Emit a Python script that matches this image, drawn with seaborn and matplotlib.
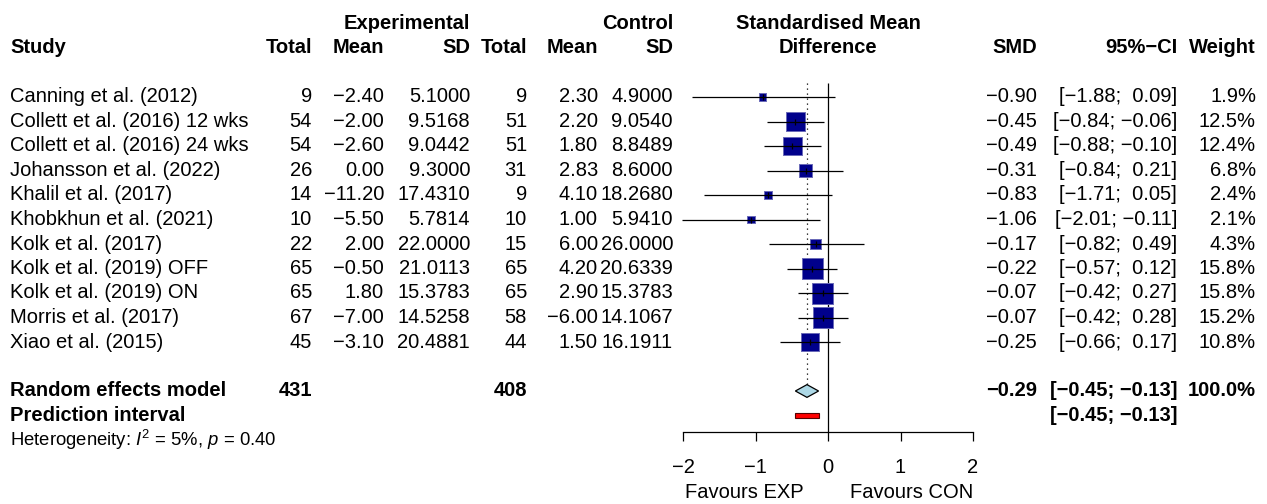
import numpy as np
import pandas as pd
import matplotlib
matplotlib.use("Agg")
import matplotlib.pyplot as plt
import seaborn as sns
from matplotlib.transforms import blended_transform_factory
from matplotlib.patches import Polygon, Rectangle

# ---------------- data ----------------
studies = ["Canning et al. (2012)", "Collett et al. (2016) 12 wks", "Collett et al. (2016) 24 wks",
           "Johansson et al. (2022)", "Khalil et al. (2017)", "Khobkhun et al. (2021)",
           "Kolk et al. (2017)", "Kolk et al. (2019) OFF", "Kolk et al. (2019) ON",
           "Morris et al. (2017)", "Xiao et al. (2015)"]
exp_total = [9, 54, 54, 26, 14, 10, 22, 65, 65, 67, 45]
exp_mean = [-2.40, -2.00, -2.60, 0.00, -11.20, -5.50, 2.00, -0.50, 1.80, -7.00, -3.10]
exp_sd = [5.1000, 9.5168, 9.0442, 9.3000, 17.4310, 5.7814, 22.0000, 21.0113, 15.3783, 14.5258, 20.4881]
ctl_total = [9, 51, 51, 31, 9, 10, 15, 65, 65, 58, 44]
ctl_mean = [2.30, 2.20, 1.80, 2.83, 4.10, 1.00, 6.00, 4.20, 2.90, -6.00, 1.50]
ctl_sd = [4.9000, 9.0540, 8.8489, 8.6000, 18.2680, 5.9410, 26.0000, 20.6339, 15.3783, 14.1067, 16.1911]
smd = [-0.90, -0.45, -0.49, -0.31, -0.83, -1.06, -0.17, -0.22, -0.07, -0.07, -0.25]
ci_lower = [-1.88, -0.84, -0.88, -0.84, -1.71, -2.01, -0.82, -0.57, -0.42, -0.42, -0.66]
ci_upper = [0.09, -0.06, -0.10, 0.21, 0.05, -0.11, 0.49, 0.12, 0.27, 0.28, 0.17]
weight = [1.9, 12.5, 12.4, 6.8, 2.4, 2.1, 4.3, 15.8, 15.8, 15.2, 10.8]

re_total_exp = 431
re_total_ctl = 408
re_smd = -0.29
re_lower = -0.45
re_upper = -0.13
re_weight = 100.0
pi_lower = -0.45
pi_upper = -0.13
het_i2 = 5
het_p = 0.40

x_ticks = [-2, -1, 0, 1, 2]
fav_left = "Favours EXP"
fav_right = "Favours CON"

# ---------------- style ----------------
sns.set_style("white")
plt.rcParams['font.family'] = ['Liberation Sans', 'DejaVu Sans']
plt.rcParams['mathtext.fontset'] = 'custom'
plt.rcParams['mathtext.rm'] = 'Liberation Sans'
plt.rcParams['mathtext.it'] = 'Liberation Sans:italic'
plt.rcParams['axes.unicode_minus'] = True
plt.rcParams['text.color'] = 'black'
plt.rcParams['xtick.color'] = 'black'
plt.rcParams['xtick.labelcolor'] = 'black'
plt.rcParams['axes.edgecolor'] = 'black'

FS = 14.5
FS_SMALL = 13.3
W, H = 1267, 504
ROW0_PX = 97.0
ROW_PX = 24.5
AXIS_PX = 432.0


def fmt(v, d):
    return f"{v:.{d}f}".replace("-", "\u2212")


def fmt_ci(lo, up, wl, wu):
    a = fmt(lo, 2)
    b = fmt(up, 2)
    return "[" + " " * (wl - len(a)) + a + "; " + " " * (wu - len(b)) + b + "]"


fig = plt.figure(figsize=(W / 100, H / 100), dpi=100)

# text layer
ax_t = fig.add_axes([0, 0, 1, 1])
ax_t.set_xlim(0, W)
ax_t.set_ylim((H - ROW0_PX) / ROW_PX, -ROW0_PX / ROW_PX)
ax_t.axis("off")

# forest layer
px_per_unit = 72.5
zero_px = 828.0
xmin, xmax = -2.1, 2.1
left_px = zero_px + xmin * px_per_unit
ax = fig.add_axes([left_px / W, (H - AXIS_PX) / H, (xmax - xmin) * px_per_unit / W, AXIS_PX / H])
ax.set_facecolor("none")
ax.set_xlim(xmin, xmax)
ax.set_ylim((AXIS_PX - ROW0_PX) / ROW_PX, -ROW0_PX / ROW_PX)

n = len(studies)
rows = np.arange(n)
row_re = n + 1
row_pi = n + 2
row_het = n + 3
hdr1, hdr2 = -3, -2

df = pd.DataFrame({"study": studies, "smd": smd, "lo": ci_lower, "up": ci_upper,
                   "w": weight, "row": rows})

# squares (area proportional to weight)
side_max_pt = 21 * 0.72
wmax = max(weight)
wmin = min(weight)
sns.scatterplot(data=df, x="smd", y="row", size="w",
                sizes=(side_max_pt ** 2 * wmin / wmax, side_max_pt ** 2),
                size_norm=(wmin, wmax), marker="s", color="#00008B",
                edgecolor="#6a6ab8", linewidth=0.7, legend=False, ax=ax, zorder=3)
# CI lines
ax.hlines(df["row"], df["lo"], df["up"], color="black", lw=0.9, zorder=4)
# point ticks
ax.scatter(df["smd"], df["row"], marker="|", s=20, color="black", linewidths=0.9, zorder=5)

# reference lines
top_line = -0.58
ax.vlines(0, top_line, (AXIS_PX - ROW0_PX) / ROW_PX, color="black", lw=0.9, zorder=2)
ax.vlines(re_smd, top_line, row_re - 0.26, color="black", lw=0.9,
          linestyles=(0, (1, 3)), zorder=2)

# diamond
ax.add_patch(Polygon([(re_lower, row_re), (re_smd, row_re - 0.26), (re_upper, row_re),
                      (re_smd, row_re + 0.26)], closed=True, fc="lightblue", ec="black",
                     lw=0.9, zorder=4))
# prediction interval
ax.add_patch(Rectangle((pi_lower, row_pi - 0.11), pi_upper - pi_lower, 0.22,
                       fc="red", ec="#550000", lw=0.8, zorder=4))

# axis
for s in ["top", "left", "right"]:
    ax.spines[s].set_visible(False)
ax.spines["bottom"].set_bounds(x_ticks[0], x_ticks[-1])
ax.spines["bottom"].set_linewidth(0.9)
ax.spines["bottom"].set_color("black")
ax.set_xticks(x_ticks)
ax.set_xticklabels([fmt(t, 0) for t in x_ticks])
ax.set_yticks([])
ax.tick_params(axis="x", direction="out", length=6.5, width=0.9, color="black",
               labelcolor="black", labelsize=FS, pad=12.5, bottom=True)
ax.set_xlabel("")
ax.set_ylabel("")
trans = blended_transform_factory(ax.transData, fig.transFigure)
fav_y = 1 - 492 / H
ax.text(-1.15, fav_y, fav_left, transform=trans, ha="center", va="center", fontsize=FS)
ax.text(1.15, fav_y, fav_right, transform=trans, ha="center", va="center", fontsize=FS)

# ---------------- text columns ----------------
X_STUDY = 10
X_ETOT, X_EMEAN, X_ESD = 312, 384, 470
X_CTOT, X_CMEAN, X_CSD = 527, 598, 673
X_SMD, X_CI, X_W = 1037, 1177, 1256
X_FOREST_MID = 828


def t(x, y, s, ha="right", bold=False, size=FS):
    ax_t.text(x, y, s, ha=ha, va="center", fontsize=size, color="black",
              fontweight="bold" if bold else "normal")


# headers
t(X_ESD, hdr1, "Experimental", bold=True)
t(X_CSD, hdr1, "Control", bold=True)
t(X_FOREST_MID, hdr1, "Standardised Mean", ha="center", bold=True)
t(X_FOREST_MID, hdr2, "Difference", ha="center", bold=True)
t(X_STUDY, hdr2, "Study", ha="left", bold=True)
for x, s in [(X_ETOT, "Total"), (X_EMEAN, "Mean"), (X_ESD, "SD"), (X_CTOT, "Total"),
             (X_CMEAN, "Mean"), (X_CSD, "SD"), (X_SMD, "SMD"), (X_CI, "95%\u2212CI"),
             (X_W, "Weight")]:
    t(x, hdr2, s, bold=True)

wl = max(len(fmt(v, 2)) for v in ci_lower)
wu = max(len(fmt(v, 2)) for v in ci_upper)
for i in range(n):
    t(X_STUDY, i, studies[i], ha="left")
    t(X_ETOT, i, str(exp_total[i]))
    t(X_EMEAN, i, fmt(exp_mean[i], 2))
    t(X_ESD, i, fmt(exp_sd[i], 4))
    t(X_CTOT, i, str(ctl_total[i]))
    t(X_CMEAN, i, fmt(ctl_mean[i], 2))
    t(X_CSD, i, fmt(ctl_sd[i], 4))
    t(X_SMD, i, fmt(smd[i], 2))
    t(X_CI, i, fmt_ci(ci_lower[i], ci_upper[i], wl, wu))
    t(X_W, i, f"{weight[i]:.1f}%")

# pooled rows
t(X_STUDY, row_re, "Random effects model", ha="left", bold=True)
t(X_ETOT, row_re, str(re_total_exp), bold=True)
t(X_CTOT, row_re, str(re_total_ctl), bold=True)
t(X_SMD, row_re, fmt(re_smd, 2), bold=True)
t(X_CI, row_re, fmt_ci(re_lower, re_upper, 0, 0), bold=True)
t(X_W, row_re, f"{re_weight:.1f}%", bold=True)
t(X_STUDY, row_pi, "Prediction interval", ha="left", bold=True)
t(X_CI, row_pi, fmt_ci(pi_lower, pi_upper, 0, 0), bold=True)
t(X_STUDY, row_het, r"Heterogeneity: $\mathit{I}^{2}$ = " + f"{het_i2}%, " + r"$\mathit{p}$ = "
  + f"{het_p:.2f}", ha="left", size=FS_SMALL)

fig.savefig("out.png", dpi=100)
